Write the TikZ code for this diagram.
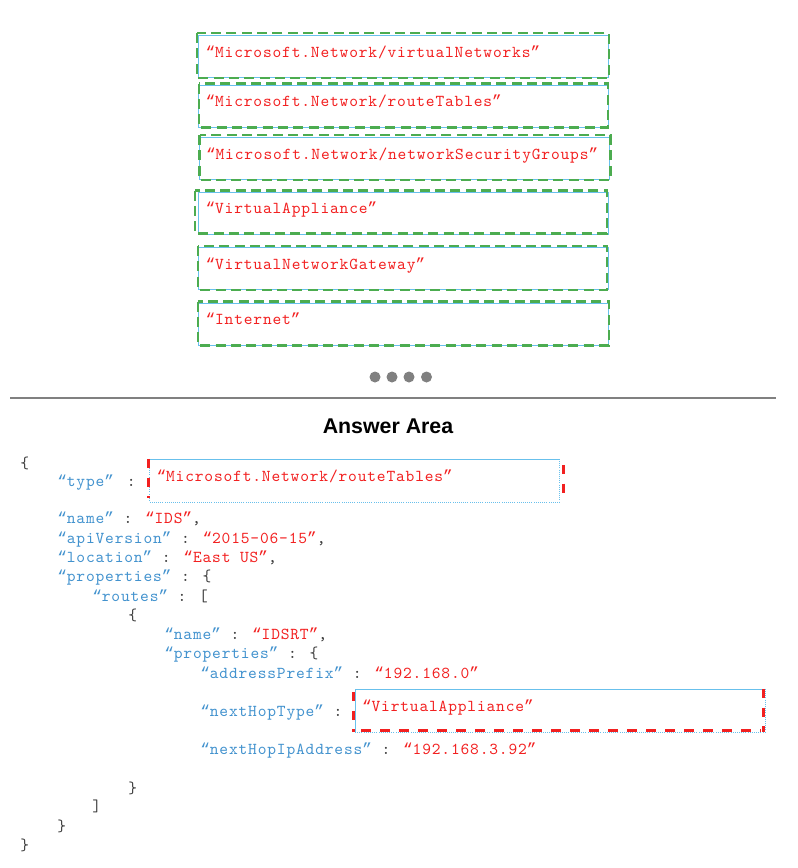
\documentclass[tikz,border=0pt]{standalone}
\usepackage{fontspec}
\setmainfont{Liberation Serif}
\setsansfont{Liberation Sans}
\newfontfamily\codefont{lmmono10-regular.otf}[LetterSpace=5]
\newfontfamily\quotefont{Liberation Mono}
\usetikzlibrary{positioning}

\definecolor{keyblue}{RGB}{66,146,206}
\definecolor{valred}{RGB}{242,32,32}
\definecolor{boxblue}{RGB}{104,192,236}
\definecolor{dashgreen}{RGB}{76,172,80}
\definecolor{dotgray}{RGB}{128,128,128}
\definecolor{punctgray}{RGB}{60,60,60}

\newcommand{\oq}{{\quotefont\fontsize{12}{14}\selectfont “}}
\newcommand{\cq}{{\quotefont\fontsize{12}{14}\selectfont ”}}
\newcommand{\jkey}[1]{\textcolor{keyblue}{\oq#1\cq}}
\newcommand{\jval}[1]{\textcolor{valred}{\oq#1\cq}}

\tikzset{
  code/.style={anchor=west, inner sep=0pt, text height=8pt, text depth=2.5pt,
    font=\codefont\fontsize{12.5}{14}\selectfont, text=punctgray},
  choice/.style={draw=boxblue, line width=0.6pt, minimum width=307.5pt,
    minimum height=31.5pt, text width=297pt, align=left, inner xsep=5pt,
    text height=9pt, text depth=8pt,
    font=\codefont\fontsize{12.5}{14}\selectfont, text=valred},
  slot/.style={minimum width=307pt, minimum height=32pt, text width=297pt,
    align=left, inner xsep=5pt, text height=9pt, text depth=8pt,
    font=\codefont\fontsize{12.5}{14}\selectfont, text=valred},
  greendash/.style={draw=dashgreen, line width=2pt, dash pattern=on 7.5pt off 4pt},
  reddash/.style={draw=valred, line width=2.2pt, dash pattern=on 7pt off 7pt},
}

\begin{document}
\begin{tikzpicture}[x=0.75pt,y=-0.75pt]
  \useasboundingbox (0,0) rectangle (798,868);

  % choices
  \node[choice] (vnet) at (403.5,56.5) {\oq Microsoft.Network/virtualNetworks\cq};
  \node[choice] (rtab) at (403.5,106) {\oq Microsoft.Network/routeTables\cq};
  \node[choice] (nsg) at (404,158.5) {\oq Microsoft.Network/networkSecurityGroups\cq};
  \node[choice] (appl) at (403.5,213) {\oq VirtualAppliance\cq};
  \node[choice] (vgw) at (403.5,268.5) {\oq VirtualNetworkGateway\cq};
  \node[choice] (inet) at (403.5,324) {\oq Internet\cq};
  \draw[greendash] ([shift={(-1,-2)}]vnet.north west) rectangle (vnet.south east);
  \draw[greendash] ([shift={(1,-1)}]rtab.north west) rectangle ([shift={(-1,0)}]rtab.south east);
  \draw[greendash] ([shift={(1,-2)}]nsg.north west) rectangle ([shift={(1,0)}]nsg.south east);
  \draw[greendash] ([shift={(-3,-1)}]appl.north west) rectangle ([shift={(-2,-1)}]appl.south east);
  \draw[greendash] ([shift={(0,-1)}]vgw.north west) rectangle ([shift={(-2,0)}]vgw.south east);
  \draw[greendash] ([shift={(0,-1)}]inet.north west) rectangle (inet.south east);

  % pager and divider
  \fill[dotgray] (375,377) circle (5.5);
  \fill[dotgray] (392,377) circle (5.5);
  \fill[dotgray] (409,377) circle (5.5);
  \fill[dotgray] (426.5,377) circle (5.5);
  \draw[dotgray, line width=2.2pt] (10,398) -- (776,398);

  \node[font=\sffamily\bfseries\fontsize{16}{19}\selectfont] (answer) at (388,426) {Answer Area};

  % json
  \node[code] (open) at (20,465) {\{};
  \node[code] (type) at (57,483) {\jkey{type}\hspace{2.5pt} :};
  \node[slot] (typeslot) at (354.5,480.5) {\oq Microsoft.Network/routeTables\cq};
  \node[code] (name) at (57,520) {\jkey{name} : \jval{IDS},};
  \node[code] (api) at (57,540) {\jkey{apiVersion} : \jval{2015-06-15},};
  \node[code] (loc) at (57,559) {\jkey{location} : \jval{East US},};
  \node[code] (props) at (57,578) {\jkey{properties} : \{};
  \node[code] (routes) at (92,598) {\jkey{routes} : [};
  \node[code] (ropen) at (128,617) {\{};
  \node[code] (rname) at (164,636) {\jkey{name} : \jval{IDSRT},};
  \node[code] (rprops) at (164,655) {\jkey{properties} : \{};
  \node[code] (prefix) at (200,675) {\jkey{addressPrefix} : \jval{192.168.0}};
  \node[code] (hoptype) at (200,713) {\jkey{nextHopType} :};
  \node[slot] (hopslot) at (560,710.5) {\oq VirtualAppliance\cq};
  \node[code] (hopip) at (200,751) {\jkey{nextHopIpAddress} : \jval{192.168.3.92}};
  \node[code] (rclose) at (128,790) {\}};
  \node[code] (rtclose) at (92,808) {]};
  \node[code] (pclose) at (57,828) {\}};
  \node[code] (close) at (20,847) {\}};

  % answer slots
  \draw[boxblue, line width=0.6pt] (typeslot.north west) -- (typeslot.north east);
  \draw[boxblue, line width=0.6pt, densely dotted] (typeslot.north east) -- (typeslot.south east)
        -- (typeslot.south west) -- (typeslot.north west);
  \draw[reddash, line cap=butt] ([xshift=-1]typeslot.north west) -- ++(0,39);
  \draw[reddash] ([shift={(4,6)}]typeslot.north east) -- ++(0,28);

  \draw[boxblue, line width=0.6pt] (hopslot.south west) -- (hopslot.north west) -- (hopslot.north east);
  \draw[boxblue, line width=0.6pt, densely dotted] (hopslot.north east) -- (hopslot.south east)
        -- (hopslot.south west);
  \draw[reddash] ([shift={(-2,3)}]hopslot.north west) -- ++(0,40);
  \draw[reddash, dash pattern=on 7.5pt off 6.75pt] ([shift={(6,-1.5)}]hopslot.south west) -- ([shift={(-4,-1.5)}]hopslot.south east);
  \draw[reddash] ([shift={(-1,0)}]hopslot.north east) -- ([shift={(-1,0)}]hopslot.south east);
\end{tikzpicture}
\end{document}
